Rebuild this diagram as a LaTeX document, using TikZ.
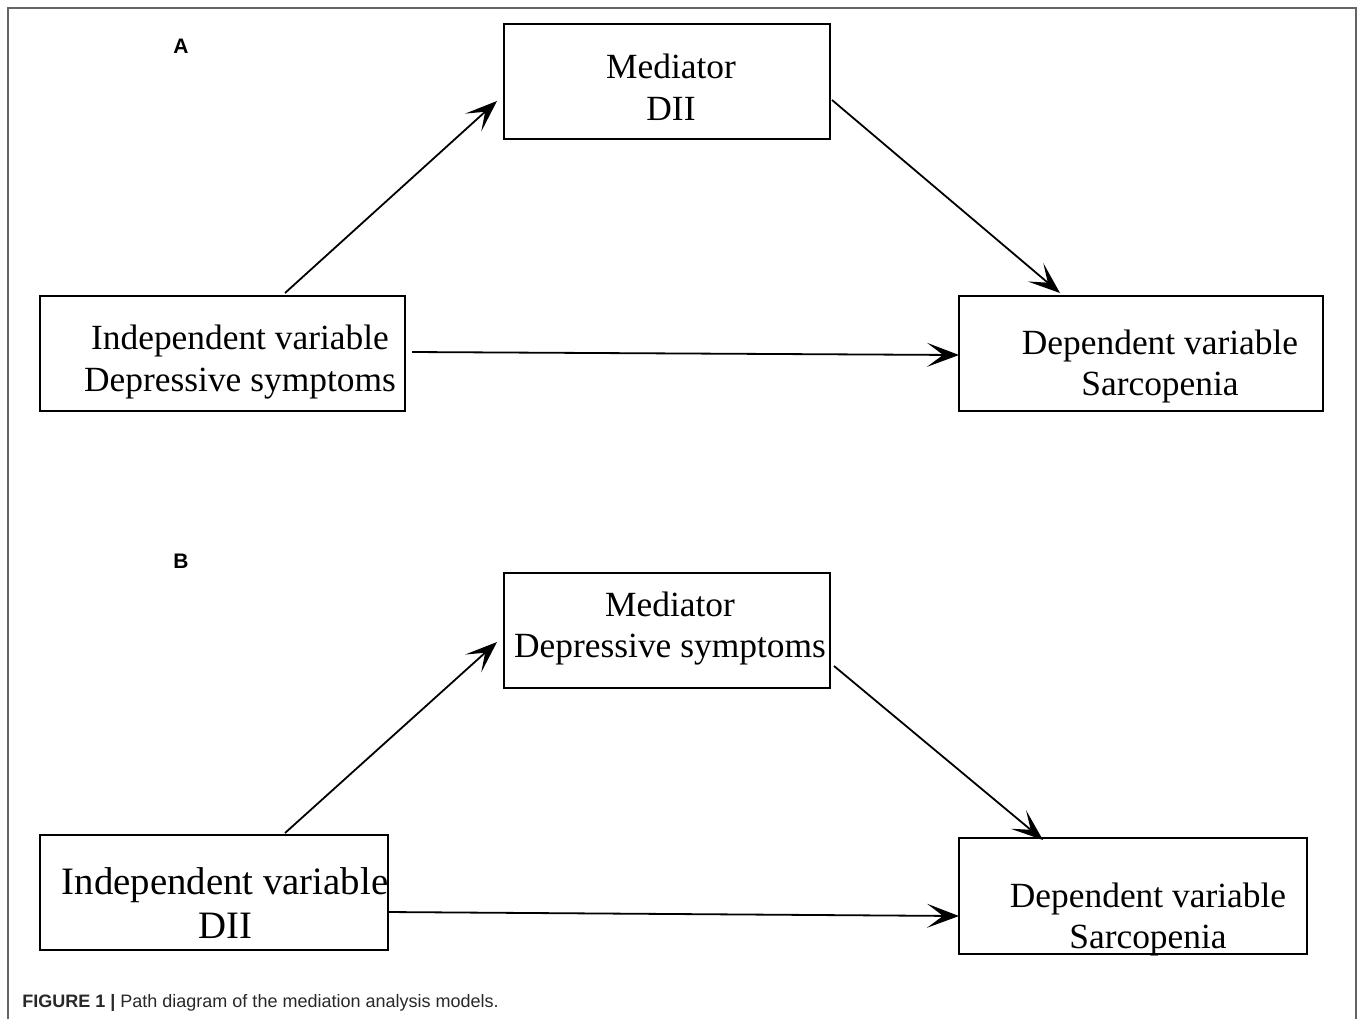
\documentclass[tikz,border=0pt]{standalone}
\usepackage{fontspec}
\setmainfont{Liberation Serif}
\newfontfamily\capfont{Liberation Sans}
\usetikzlibrary{arrows.meta,calc}
\definecolor{framegray}{RGB}{100,100,100}
\definecolor{capgray}{RGB}{40,40,40}
\tikzset{
  box/.style={draw=black, line width=1pt, rectangle, inner sep=0pt, outer sep=0pt, minimum height=57.5pt},
  txt/.style={align=center, inner sep=0pt, font=\fontsize{17.7}{20.75}\selectfont},
  bigtxt/.style={align=center, inner sep=0pt, font=\fontsize{19.4}{22}\selectfont},
  conn/.style={line width=0.9pt, -{Stealth[length=16pt,width=12pt,inset=8pt]}},
  panel/.style={font=\capfont\bfseries\fontsize{10.5}{12}\selectfont, inner sep=0pt},
}
\begin{document}
\begin{tikzpicture}[x=0.5pt,y=-0.5pt]
\useasboundingbox (0,0) rectangle (1358,1019);
\fill[white] (0,0) rectangle (1358,1019);
\draw[framegray, line width=0.8pt] (8,1019) -- (8,8) -- (1356,8) -- (1356,1019);

% Panel A
\node[panel] (labA) at (181,46) {A};
\node[box, minimum width=163pt] (Amed) at (667,81.5) {};
\node[box, minimum width=182.5pt] (Aind) at (222.5,353.5) {};
\node[box, minimum width=182pt] (Adep) at (1141,353.5) {};
\node[txt] (AmedT) at (671,87) {Mediator\\DII};
\node[txt] (AindT) at (240,362) {Independent variable\\Depressive symptoms};
\node[txt] (AdepT) at (1160,366.5) {Dependent variable\\Sarcopenia};
\draw[conn] ($(Aind.north west)+(245,-3)$) -- ($(Amed.west)+(-7,19.5)$);
\draw[conn] ($(Amed.east)+(2,18.5)$) -- ($(Adep.north west)+(101,-3)$);
\draw[conn] ($(Aind.east)+(7,-1.5)$) -- ($(Adep.west)+(0,1.5)$);

% Panel B
\node[panel] (labB) at (181,561) {B};
\node[box, minimum width=163pt] (Bmed) at (667,630.5) {};
\node[box, minimum width=174pt] (Bind) at (214,892.5) {};
\node[box, minimum width=174pt, minimum height=58pt] (Bdep) at (1133,896) {};
\node[txt] (BmedT) at (670,628.5) {Mediator\\Depressive symptoms};
\node[bigtxt] (BindT) at (225,903) {Independent variable\\DII};
\node[txt] (BdepT) at (1148,919.5) {Dependent variable\\Sarcopenia};
\draw[conn] ($(Bind.north west)+(245,-2)$) -- ($(Bmed.west)+(-7,11.5)$);
\draw[conn] ($(Bmed.east)+(4,35.5)$) -- ($(Bdep.north west)+(84,2)$);
\draw[conn] ($(Bind.east)+(0,19.5)$) -- ($(Bdep.west)+(0,20)$);

% Caption
\node[anchor=west, inner sep=0pt, font=\capfont\fontsize{9}{11}\selectfont, text=capgray] (cap) at (22,1003) {\textbf{FIGURE 1 |} Path diagram of the mediation analysis models.};
\end{tikzpicture}
\end{document}
